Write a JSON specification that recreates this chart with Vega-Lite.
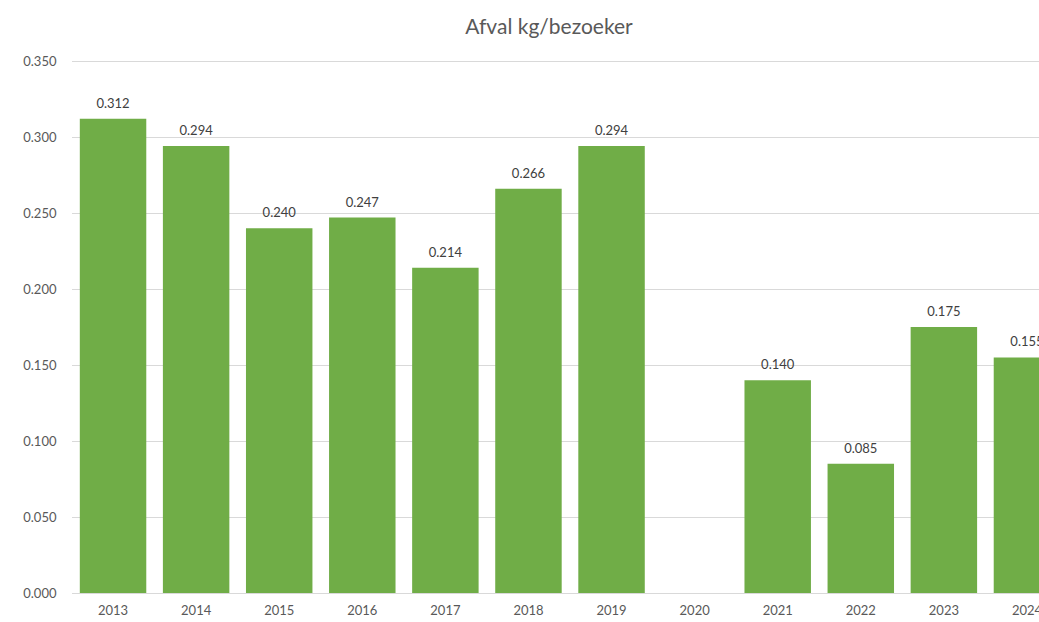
{
  "$schema": "https://vega.github.io/schema/vega-lite/v6.json",
  "autosize": {"type": "none"},
  "padding": {"left": 71, "top": 61, "right": 0, "bottom": 29},
  "width": 968,
  "height": 532,
  "background": "white",
  "title": {
    "text": "Afval kg/bezoeker",
    "fontSize": 21,
    "font": "Lato",
    "fontWeight": "normal",
    "color": "#595959",
    "anchor": "middle",
    "dx": -6,
    "offset": 17
  },
  "config": {
    "view": {"stroke": null},
    "font": "Lato"
  },
  "data": {
    "values": [
      {"jaar": "2013", "kg": 0.312},
      {"jaar": "2014", "kg": 0.294},
      {"jaar": "2015", "kg": 0.240},
      {"jaar": "2016", "kg": 0.247},
      {"jaar": "2017", "kg": 0.214},
      {"jaar": "2018", "kg": 0.266},
      {"jaar": "2019", "kg": 0.294},
      {"jaar": "2020", "kg": null},
      {"jaar": "2021", "kg": 0.140},
      {"jaar": "2022", "kg": 0.085},
      {"jaar": "2023", "kg": 0.175},
      {"jaar": "2024", "kg": 0.155}
    ]
  },
  "encoding": {
    "x": {
      "field": "jaar",
      "type": "ordinal",
      "sort": null,
      "scale": {
        "domain": ["2013", "2014", "2015", "2016", "2017", "2018", "2019", "2020", "2021", "2022", "2023", "2024"],
        "range": [0.5, 997.5],
        "paddingInner": 0.2,
        "paddingOuter": 0.1
      },
      "axis": {
        "title": null,
        "labelAngle": 0,
        "labelFontSize": 13,
        "labelColor": "#595959",
        "labelPadding": 11,
        "ticks": false,
        "domainColor": "#d9d9d9",
        "domainWidth": 1.2
      }
    },
    "y": {
      "field": "kg",
      "type": "quantitative",
      "scale": {"domain": [0, 0.35], "nice": false},
      "axis": {
        "title": null,
        "values": [0, 0.05, 0.1, 0.15, 0.2, 0.25, 0.3, 0.35],
        "format": ".3f",
        "labelFontSize": 13,
        "labelColor": "#595959",
        "labelPadding": 15,
        "ticks": false,
        "domain": false,
        "gridColor": "#d9d9d9",
        "gridWidth": 1
      }
    }
  },
  "layer": [
    {
      "mark": {"type": "bar", "color": "#70AD47"}
    },
    {
      "transform": [{"filter": "isValid(datum.kg)"}],
      "mark": {"type": "text", "baseline": "bottom", "dy": -8, "fontSize": 13, "color": "#404040"},
      "encoding": {
        "text": {"field": "kg", "type": "quantitative", "format": ".3f"}
      }
    }
  ]
}
